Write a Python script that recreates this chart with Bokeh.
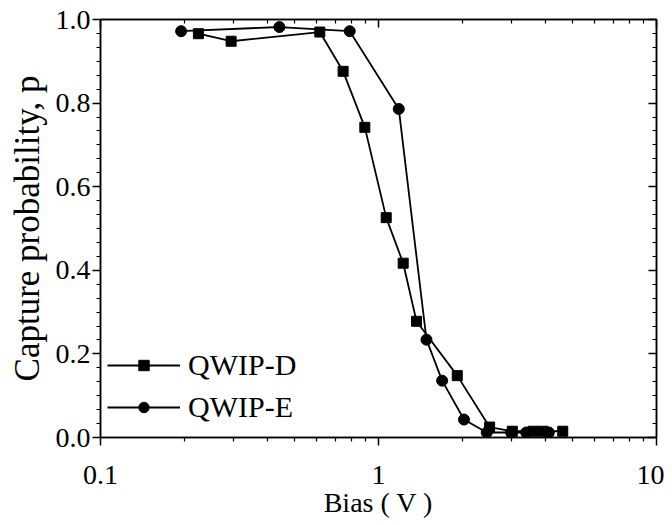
from bokeh.plotting import figure
from bokeh.models import (LogAxis, LinearAxis, FixedTicker, SingleIntervalTicker,
                          NumeralTickFormatter, Legend, LegendItem, Range1d)
from bokeh.embed import file_html
from bokeh.resources import INLINE

# ---- data ----
bias_d = [0.225, 0.295, 0.615, 0.746, 0.893, 1.066, 1.227, 1.37, 1.92, 2.51, 3.03, 3.6, 3.9, 4.6]
p_d = [0.966, 0.948, 0.970, 0.876, 0.742, 0.526, 0.417, 0.278, 0.148, 0.025, 0.015, 0.015, 0.015, 0.015]

bias_e = [0.195, 0.44, 0.788, 1.183, 1.488, 1.694, 2.03, 2.45, 3.0, 3.4, 4.1]
p_e = [0.972, 0.982, 0.972, 0.786, 0.234, 0.136, 0.043, 0.012, 0.012, 0.012, 0.012]

series_labels = ["QWIP-D", "QWIP-E"]
x_major_ticks = [0.1, 1, 10]
x_minor_ticks = [0.2, 0.3, 0.4, 0.5, 0.6, 0.7, 0.8, 0.9, 2, 3, 4, 5, 6, 7, 8, 9]
x_label = "Bias ( V )"
y_label = "Capture probability, p"

FONT = "Liberation Serif"

p = figure(width=664, height=522, x_axis_type="log",
           x_range=Range1d(0.1, 10), y_range=Range1d(0, 1),
           output_backend="svg", toolbar_location=None,
           min_border_left=100, min_border_right=8, min_border_top=19, min_border_bottom=85)
p.grid.visible = False
p.outline_line_color = "black"
p.outline_line_width = 1.5

xticker = FixedTicker(ticks=x_major_ticks, minor_ticks=x_minor_ticks)
yticker = SingleIntervalTicker(interval=0.2, num_minor_ticks=6)

def style(ax, inward, show_labels):
    ax.axis_line_width = 1.5
    ax.axis_line_color = "black"
    ax.major_tick_line_width = 1.5
    ax.minor_tick_line_width = 1.2
    if inward:
        ax.major_tick_in, ax.major_tick_out = 8, 0
        ax.minor_tick_in, ax.minor_tick_out = 4, 0
    else:
        ax.major_tick_in, ax.major_tick_out = 0, 8
        ax.minor_tick_in, ax.minor_tick_out = 0, 4
    if show_labels:
        ax.major_label_text_font = FONT
        ax.major_label_text_font_size = "28px"
        ax.major_label_text_color = "black"
        ax.axis_label_text_color = "black"
        ax.axis_label_text_font = FONT
        ax.axis_label_text_font_style = "normal"
    else:
        ax.major_label_text_font_size = "0px"
        ax.major_label_text_color = None
        ax.major_label_standoff = 0

xa = p.xaxis[0]
xa.ticker = xticker
xa.formatter = NumeralTickFormatter(format="0.[0]")
style(xa, False, True)
xa.major_label_standoff = 20
xa.axis_label = x_label
xa.axis_label_text_font_size = "28px"
xa.axis_label_standoff = 0

ya = p.yaxis[0]
ya.ticker = yticker
ya.formatter = NumeralTickFormatter(format="0.0")
style(ya, False, True)
ya.major_label_standoff = 2
ya.axis_label = y_label
ya.axis_label_text_font_size = "35px"
ya.axis_label_standoff = 6

top = LogAxis(ticker=xticker)
style(top, True, False)
p.add_layout(top, "above")
right = LinearAxis(ticker=yticker)
style(right, True, False)
p.add_layout(right, "right")

ld = p.line(bias_d, p_d, line_color="black", line_width=1.8)
sd = p.scatter(bias_d, p_d, marker="square", size=10, color="black")
le = p.line(bias_e, p_e, line_color="black", line_width=1.8)
se = p.scatter(bias_e, p_e, marker="circle", size=11, color="black")

legend = Legend(items=[LegendItem(label=series_labels[0], renderers=[ld, sd]),
                       LegendItem(label=series_labels[1], renderers=[le, se])],
                location=(7, 13), padding=0, spacing=8, margin=0,
                glyph_width=73, glyph_height=26, label_standoff=8,
                label_text_font=FONT, label_text_font_size="30px",
                label_text_color="black",
                border_line_color=None, background_fill_alpha=0)
p.add_layout(legend)

open("out.html", "w").write(file_html(p, INLINE))
